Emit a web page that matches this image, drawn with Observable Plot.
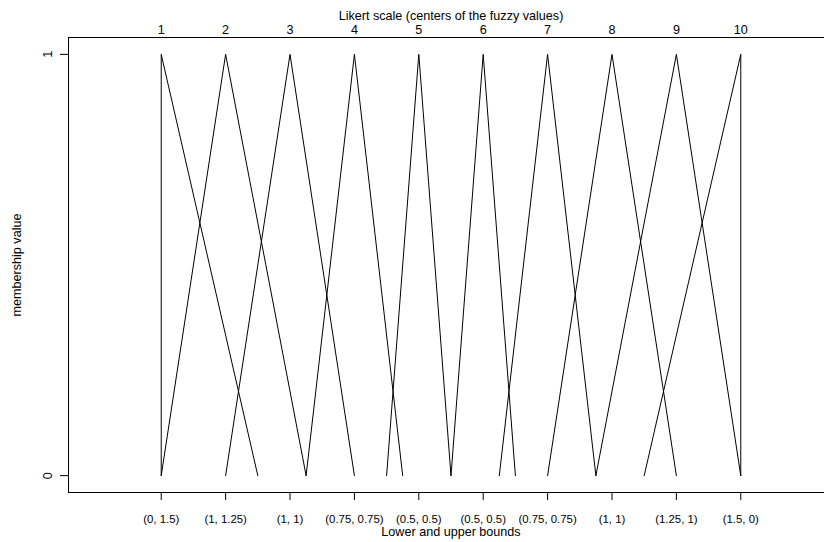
<!DOCTYPE html>
<html><head><meta charset="utf-8">
<script src="https://cdn.jsdelivr.net/npm/d3@7"></script>
<script src="https://cdn.jsdelivr.net/npm/@observablehq/plot@0.6"></script>
<style>body{margin:0;background:#fff}</style>
</head><body><div id="chart"></div>
<script>
const centers = [1, 2, 3, 4, 5, 6, 7, 8, 9, 10];
const lowerBounds = [0, 1, 1, 0.75, 0.5, 0.5, 0.75, 1, 1.25, 1.5];
const upperBounds = [1.5, 1.25, 1, 0.75, 0.5, 0.5, 0.75, 1, 1, 0];
const boundLabels = ["(0, 1.5)", "(1, 1.25)", "(1, 1)", "(0.75, 0.75)", "(0.5, 0.5)", "(0.5, 0.5)", "(0.75, 0.75)", "(1, 1)", "(1.25, 1)", "(1.5, 0)"];
const membershipTicks = [0, 1];
const topTitle = "Likert scale (centers of the fuzzy values)";
const bottomTitle = "Lower and upper bounds";
const leftTitle = "membership value";
const xlim = [0, 11];
const ylim = [0, 1];

// R-style 4% axis extension
const ext = (l) => { const d = (l[1] - l[0]) * 0.04; return [l[0] - d, l[1] + d]; };
const xd = ext(xlim), yd = ext(ylim);

const points = [];
centers.forEach((c, i) => {
  points.push({i, x: c - lowerBounds[i], y: 0});
  points.push({i, x: c, y: 1});
  points.push({i, x: c + upperBounds[i], y: 0});
});

const font = "'Liberation Sans', Arial, Helvetica, sans-serif";
const mid = d3.mean(centers);
const fs = 12.6, fsSmall = 11.4;

const chart = Plot.plot({
  width: 824,
  height: 542,
  marginLeft: 68,
  marginRight: 0,
  marginTop: 37,
  marginBottom: 50,
  style: {fontFamily: font, fontSize: "12px", color: "black", background: "white"},
  x: {domain: xd, range: [68, 833]},
  y: {domain: yd},
  marks: [
    Plot.ruleY([yd[0], yd[1]], {stroke: "black"}),
    Plot.ruleX([xd[0]], {stroke: "black"}),
    Plot.axisY({ticks: membershipTicks, tickSize: 8, tickFormat: () => "", label: null, stroke: "black", strokeOpacity: 1}),
    Plot.axisX({anchor: "bottom", ticks: centers, tickSize: 8, tickFormat: () => "", label: null, stroke: "black", strokeOpacity: 1}),
    Plot.line(points, {x: "x", y: "y", z: "i", stroke: "black", strokeWidth: 1}),
    Plot.text(membershipTicks, {y: d => d, frameAnchor: "left", dx: -21, rotate: -90, textAnchor: "middle", lineAnchor: "middle", text: d => String(d), fontSize: fs, fill: "black"}),
    Plot.text([leftTitle], {frameAnchor: "left", dx: -52, rotate: -90, textAnchor: "middle", lineAnchor: "middle", text: d => d, fontSize: fs, fill: "black"}),
    Plot.text(centers, {x: d => d, frameAnchor: "top", dy: -7.5, textAnchor: "middle", lineAnchor: "middle", text: d => String(d), fontSize: fs, fill: "black"}),
    Plot.text([topTitle], {x: () => mid, frameAnchor: "top", dy: -22, textAnchor: "middle", lineAnchor: "middle", text: d => d, fontSize: fs, fill: "black"}),
    Plot.text(centers, {x: d => d, frameAnchor: "bottom", dy: 27, textAnchor: "middle", lineAnchor: "middle", text: (d, i) => boundLabels[i], fontSize: fsSmall, fill: "black"}),
    Plot.text([bottomTitle], {x: () => mid, frameAnchor: "bottom", dy: 39, textAnchor: "middle", lineAnchor: "middle", text: d => d, fontSize: fs, fill: "black"})
  ]
});
document.getElementById("chart").appendChild(chart);
</script>
</body></html>
